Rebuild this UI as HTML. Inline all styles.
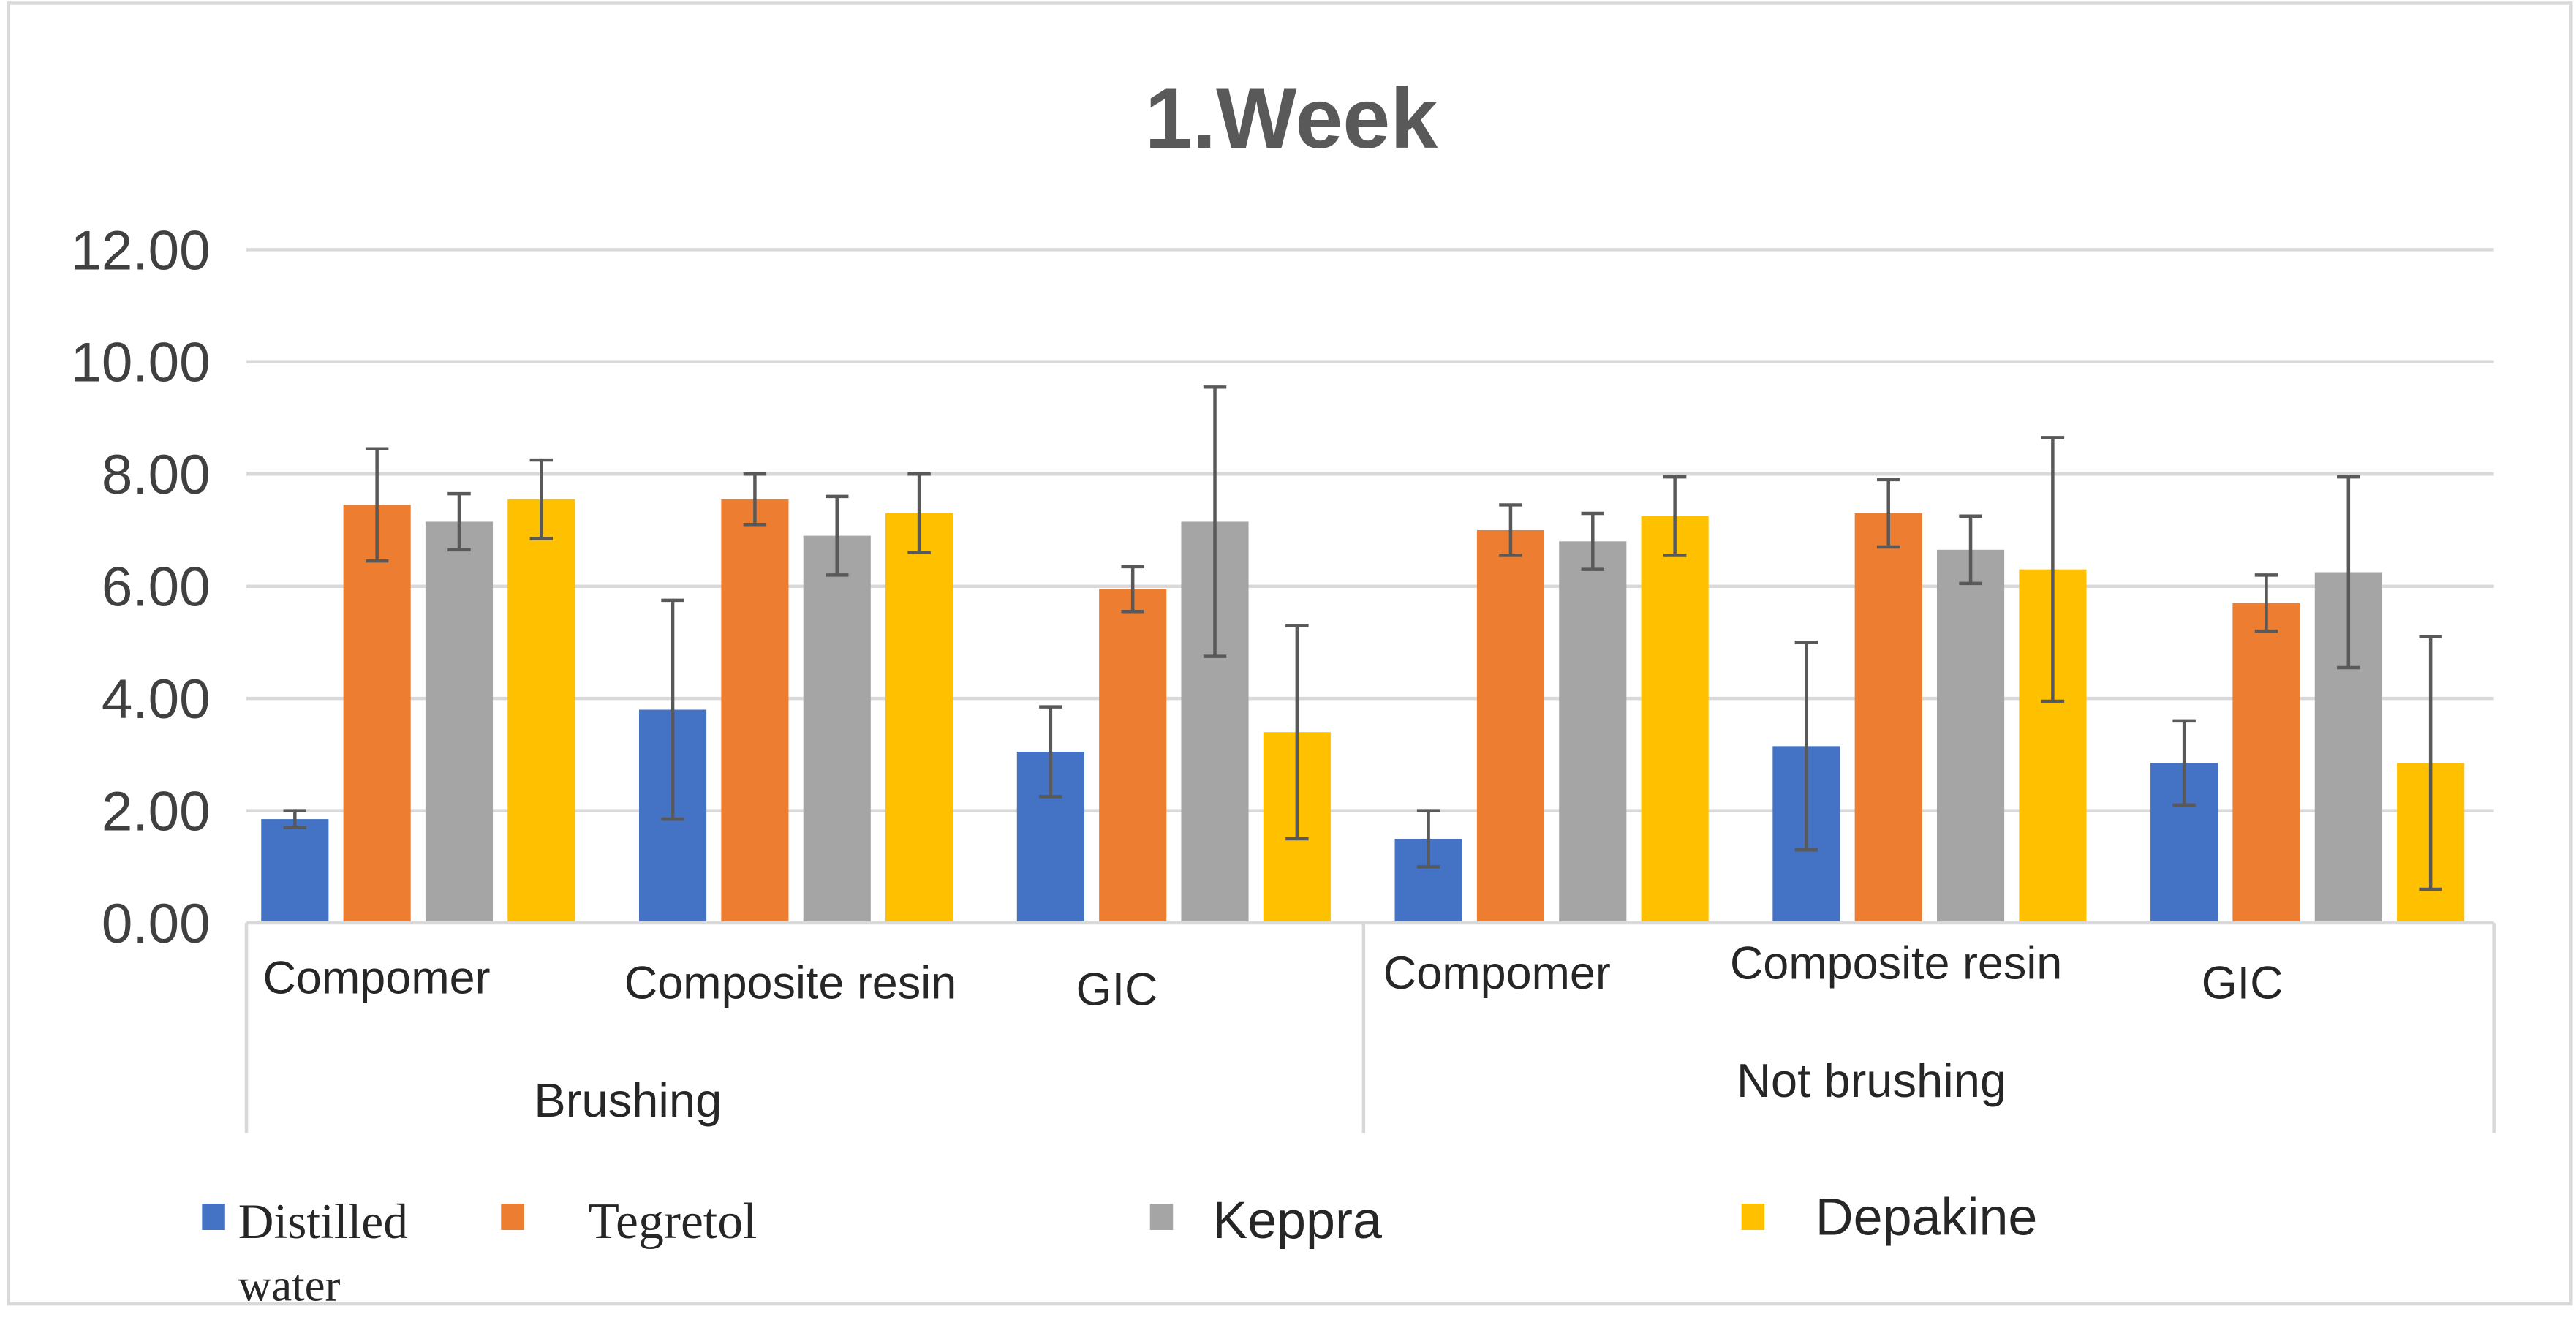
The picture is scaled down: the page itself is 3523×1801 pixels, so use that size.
<!DOCTYPE html>
<html><head><meta charset="utf-8"><style>
html,body{margin:0;padding:0;background:#fff;}
svg{display:block;}
</style></head><body>
<svg id="chart" width="3523" height="1801" viewBox="0 0 1568 802" preserveAspectRatio="none" xmlns="http://www.w3.org/2000/svg" font-family="Liberation Sans, sans-serif">
<rect x="0" y="0" width="1568" height="802" fill="#fff"/>
<rect x="5" y="2" width="1560" height="792" fill="none" stroke="#d9d9d9" stroke-width="2"/>
<text x="786" y="90" text-anchor="middle" font-size="52" font-weight="bold" fill="#595959">1.Week</text>
<g id="grid"></g>
<g id="bars"></g>
<g id="axis"></g>
<g id="legend"></g>
</svg>
<script>
const ticks = [0, 2, 4, 6, 8, 10, 12];
const tickLabels = ["0.00", "2.00", "4.00", "6.00", "8.00", "10.00", "12.00"];
const categories = ["Compomer", "Composite resin", "GIC", "Compomer", "Composite resin", "GIC"];
const groups = ["Brushing", "Not brushing"];
const seriesNames = ["Distilled water", "Tegretol", "Keppra", "Depakine"];
const distilled = [1.85, 3.8, 3.05, 1.5, 3.15, 2.85];
const tegretol = [7.45, 7.55, 5.95, 7.0, 7.3, 5.7];
const keppra = [7.15, 6.9, 7.15, 6.8, 6.65, 6.25];
const depakine = [7.55, 7.3, 3.4, 7.25, 6.3, 2.85];
const distilledErr = [0.15, 1.95, 0.8, 0.5, 1.85, 0.75];
const tegretolErr = [1.0, 0.45, 0.4, 0.45, 0.6, 0.5];
const keppraErr = [0.5, 0.7, 2.4, 0.5, 0.6, 1.7];
const depakineErr = [0.7, 0.7, 1.9, 0.7, 2.35, 2.25];

const series = [distilled, tegretol, keppra, depakine];
const errs = [distilledErr, tegretolErr, keppraErr, depakineErr];
const colors = ["#4472c4", "#ed7d31", "#a5a5a5", "#ffc000"];
const NS = "http://www.w3.org/2000/svg";
const x0 = 150, x1 = 1518, yBase = 562, yTop = 152;
function y(v){ return yBase - (v / 12) * (yBase - yTop); }
const groupW = 230;
const barW = 41, barStep = 50;
function xBar(ci, si){ return 159 + ci * groupW + si * barStep; }
function mk(tag, attrs, parent){ const e = document.createElementNS(NS, tag); for (const k in attrs) e.setAttribute(k, attrs[k]); parent.appendChild(e); return e; }

const grid = document.getElementById('grid');
ticks.forEach((t, i) => {
  if (t > 0) {
    const l = mk('line', {x1: x0, x2: x1, y1: y(t), y2: y(t), stroke: '#d9d9d9', 'stroke-width': 2}, grid);
    
    
  }
  const tx = mk('text', {x: 128, y: y(t) + 12, 'text-anchor': 'end', 'font-size': 34, fill: '#404040'}, grid);
  tx.textContent = tickLabels[i];
  
  
});

const bars = document.getElementById('bars');
series.forEach((s, si) => {
  s.forEach((v, ci) => {
    const bx = xBar(ci, si);
    const r = mk('rect', {x: bx, y: y(v), width: barW, height: yBase - y(v), fill: colors[si]}, bars);
    
    
    const e = errs[si][ci], cx = bx + barW / 2;
    const eg = mk('g', {stroke: '#595959', 'stroke-width': 2}, bars);
    
    
    mk('line', {x1: cx, x2: cx, y1: y(v + e), y2: y(Math.max(0, v - e))}, eg);
    mk('line', {x1: cx - 7, x2: cx + 7, y1: y(v + e), y2: y(v + e)}, eg);
    mk('line', {x1: cx - 7, x2: cx + 7, y1: y(Math.max(0, v - e)), y2: y(Math.max(0, v - e))}, eg);
  });
});

const axis = document.getElementById('axis');
const ax = mk('line', {x1: x0, x2: x1, y1: yBase, y2: yBase, stroke: '#d9d9d9', 'stroke-width': 2}, axis);


[150, 830, 1518].forEach(xx => {
  const l = mk('line', {x1: xx, x2: xx, y1: yBase, y2: 690, stroke: '#d9d9d9', 'stroke-width': 2}, axis);
  
  
});
const labX = [160, 380, 655, 842, 1053, 1340];
const labY = [595, 598, 602, 592, 586, 598];
categories.forEach((c, ci) => {
  const t = mk('text', {x: labX[ci], y: labY[ci] + 10, 'font-size': 28, fill: '#262626'}, axis);
  t.textContent = c;
  
  
});
groups.forEach((g, gi) => {
  const t = mk('text', {x: gi === 0 ? 325 : 1057, y: gi === 0 ? 680 : 668, 'font-size': 29, fill: '#262626'}, axis);
  t.textContent = g;
  
  
});

const legend = document.getElementById('legend');
const legX = [123, 305, 700, 1060];
seriesNames.forEach((n, si) => {
  const g = mk('g', {}, legend);
  
  
  mk('rect', {x: legX[si], y: 733, width: 14, height: 16, fill: colors[si]}, g);
  if (si === 0) {
    const t = mk('text', {x: 145, y: 754, 'font-size': 30, fill: '#262626', 'font-family': 'Liberation Serif, serif'}, g);
    t.textContent = 'Distilled';
    const t2 = mk('text', {x: 145, y: 792, 'font-size': 28, fill: '#262626', 'font-family': 'Liberation Serif, serif'}, g);
    t2.textContent = 'water';
  } else {
    const xs = [0, 358, 738, 1105];
    const t = mk('text', {x: xs[si], y: si === 3 ? 752 : 754, 'font-size': si === 1 ? 31 : 32, fill: '#262626'}, g);
    if (si === 1) t.setAttribute('font-family', 'Liberation Serif, serif');
    t.textContent = n;
  }
});
</script>
</body></html>
